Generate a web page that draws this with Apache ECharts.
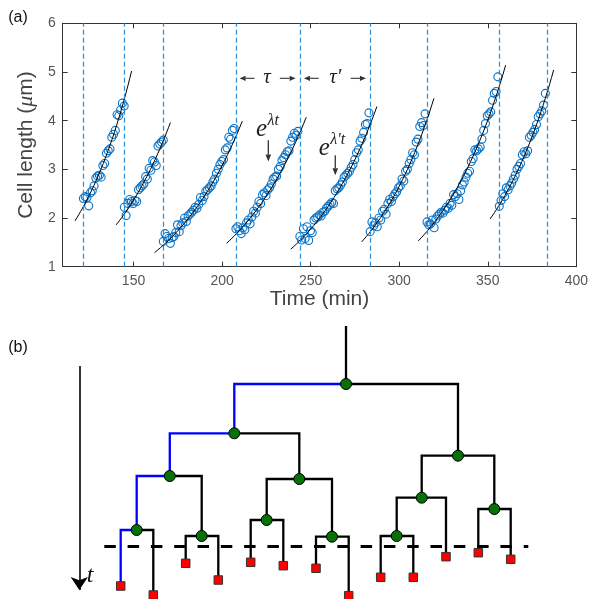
<!DOCTYPE html>
<html><head><meta charset="utf-8">
<script src="https://cdn.jsdelivr.net/npm/echarts@6/dist/echarts.min.js"></script>
<style>html,body{margin:0;padding:0;background:#fff}#c{width:591px;height:599px}</style>
</head><body><div id="c"></div>
<script>
// ---------- Panel (a) data ----------
const xTicks = [150, 200, 250, 300, 350, 400];
const yTicks = [1, 2, 3, 4, 5, 6];
const divisionTimes = [121.7, 144.8, 166.8, 207.8, 243.9, 283.6, 315.7, 356.5, 383.7];
const cycleStart = [121.7, 144.8, 166.8, 207.8, 243.9, 283.6, 315.7, 356.5]; // 1-min sampling
const cycle1 = [2.40,2.44,2.42,2.25,2.52,2.56,2.66,2.82,2.86,2.88,2.84,3.08,3.12,3.33,3.38,3.42,3.66,3.72,3.80,4.12,4.10,4.22,4.36,4.30];
const cycle2 = [2.22,2.05,2.30,2.38,2.34,2.30,2.36,2.34,2.58,2.62,2.66,2.70,2.85,2.80,3.02,2.98,3.18,3.15,3.08,3.48,3.52,3.56,3.60];
const cycle3 = [1.52,1.68,1.62,1.58,1.48,1.60,1.62,1.70,1.86,1.72,1.84,1.90,2.00,1.93,2.04,2.08,2.12,2.16,2.22,2.20,2.28,2.42,2.36,2.44,2.55,2.58,2.62,2.66,2.74,2.80,2.92,3.00,3.10,3.16,3.20,3.40,3.44,3.66,3.62,3.80,3.84];
const cycle4 = [1.78,1.82,1.74,1.68,1.80,1.76,1.90,1.96,1.88,2.02,2.14,2.10,2.22,2.34,2.30,2.48,2.52,2.46,2.58,2.62,2.70,2.80,2.84,2.86,3.00,3.06,3.18,3.24,3.30,3.36,3.38,3.58,3.66,3.74,3.70,3.78];
const cycle5 = [1.62,1.55,1.78,1.58,1.82,1.54,1.74,1.70,1.96,2.00,2.02,2.06,2.04,2.12,2.14,2.20,2.24,2.28,2.32,2.30,2.56,2.60,2.62,2.68,2.74,2.84,2.88,2.92,2.96,3.04,3.10,3.20,3.34,3.40,3.58,3.64,3.76,3.92,3.94,4.16];
const cycle6 = [1.72,1.92,1.84,1.90,1.82,2.00,1.96,2.14,2.18,2.08,2.30,2.38,2.34,2.44,2.50,2.54,2.62,2.66,2.80,2.76,2.96,3.00,3.12,3.20,3.34,3.30,3.56,3.62,3.88,3.96,3.90,4.14];
const cycle7 = [1.92,1.86,1.88,1.96,1.80,1.98,2.04,2.08,2.12,2.10,2.16,2.22,2.20,2.30,2.26,2.48,2.44,2.50,2.38,2.56,2.68,2.74,2.84,2.92,2.96,3.16,3.22,3.40,3.38,3.42,3.46,3.62,3.80,3.94,4.10,4.14,4.18,4.42,4.56,4.60,4.90];
const cycle8 = [2.24,2.36,2.50,2.44,2.62,2.58,2.66,2.72,2.80,2.88,3.00,3.06,3.12,3.30,3.36,3.32,3.38,3.66,3.70,3.76,3.82,3.92,4.08,4.14,4.20,4.32,4.56];
// exponential fits (start/end)
const fitT0 = [116.9, 140.2, 161.9, 202.5, 238.8, 278.8, 310.8, 351.3];
const fitT1 = [148.9, 170.8, 211.4, 247.5, 287.4, 319.6, 360.1, 387.2];
const fitY0 = [1.94, 1.86, 1.29, 1.48, 1.36, 1.51, 1.53, 1.98];
const fitY1 = [5.02, 3.96, 3.99, 4.07, 4.29, 4.46, 5.14, 5.04];

// ---------- Panel (b) data (lineage tree) ----------
const nodeNames  = ['R','A','B','C','D','E','F','G','H','I','J','K'];
const nodeX      = [346, 234.3, 169.8, 136.7, 201.7, 299.3, 266.7, 332, 458, 421.7, 396.7, 494.3];
const nodeT      = [384, 433.3, 476, 530, 536, 479, 520, 536.7, 455.7, 497.7, 536, 509];
const nodeParent = [null,'R','A','B','B','A','E','E','R','H','I','H'];
const leafNames  = ['L0','L1','L2','L3','L4','L5','L6','L7','L8','L9','L10','L11','L12'];
const leafX      = [120.7, 153.3, 185.7, 218.3, 250.7, 283.3, 316, 348.7, 380.7, 413.3, 446, 478.3, 510.7];
const leafT      = [586, 595, 563.3, 580, 562.3, 565.7, 568.3, 595.7, 577.3, 577.3, 556.7, 552.7, 559.3];
const leafParent = ['C','C','D','D','F','F','G','G','J','J','I','K','K'];
const lineage    = ['R','A','B','C','L0'];
const rootStemTop = 326;
const cutoffT = 546;
const cutoffRange = [104.3, 528.3];

const FONT = 'Liberation Sans, Helvetica, Arial, sans-serif';
const SERIF = 'Liberation Serif, DejaVu Serif, serif';
const chart = echarts.init(document.getElementById('c'));

const cycles = [cycle1, cycle2, cycle3, cycle4, cycle5, cycle6, cycle7, cycle8];
const scatterData = [];
cycles.forEach((c, k) => c.forEach((v, i) => scatterData.push([cycleStart[k] + i, v])));

const fitSeries = fitT0.map((t0, k) => {
  const pts = [];
  const n = 30;
  for (let i = 0; i <= n; i++) {
    const f = i / n;
    pts.push([t0 + (fitT1[k] - t0) * f, fitY0[k] * Math.pow(fitY1[k] / fitY0[k], f)]);
  }
  return {type: 'line', xAxisIndex: 0, yAxisIndex: 0, data: pts, showSymbol: false, symbol: 'none',
    lineStyle: {color: '#000', width: 1, opacity: 1}, z: 4, silent: true, animation: false};
});

// tree edges
const pos = {};
nodeNames.forEach((n, i) => pos[n] = [nodeX[i], nodeT[i]]);
leafNames.forEach((n, i) => pos[n] = [leafX[i], leafT[i]]);
const edgeData = [];
function addEdge(child, parent) {
  const p = pos[parent], c = pos[child];
  const blue = lineage.includes(child) && lineage.includes(parent);
  edgeData.push({coords: [[p[0], p[1]], [c[0], p[1]], [c[0], c[1]]],
    lineStyle: {color: blue ? '#0000ff' : '#000', width: 2.3, opacity: 1}});
}
nodeNames.forEach((n, i) => { if (nodeParent[i]) addEdge(n, nodeParent[i]); });
leafNames.forEach((n, i) => addEdge(n, leafParent[i]));
edgeData.push({coords: [[nodeX[0], rootStemTop], [nodeX[0], nodeT[0]]], lineStyle: {color: '#000', width: 2.3, opacity: 1}});

const axisCommon = {
  axisLine: {show: true, onZero: false, lineStyle: {color: '#333', width: 1}},
  splitLine: {show: false}
};

chart.setOption({
  animation: false,
  backgroundColor: '#fff',
  grid: [
    {left: 62.7, right: 9.5, top: 23.3, height: 243.4},
    {left: 0, right: 0, top: 0, bottom: 0}
  ],
  xAxis: [
    Object.assign({gridIndex: 0, type: 'value', min: 110, max: 400, position: 'bottom',
      axisTick: {inside: true, length: 5, customValues: xTicks, lineStyle: {color: '#333'}},
      axisLabel: {customValues: xTicks, color: '#555', fontSize: 14, margin: 7, fontFamily: FONT},
      name: 'Time (min)', nameLocation: 'middle', nameGap: 21,
      nameTextStyle: {fontSize: 21, color: '#444', fontFamily: FONT}}, axisCommon),
    Object.assign({gridIndex: 0, type: 'value', min: 110, max: 400, position: 'top',
      axisTick: {inside: true, length: 5, customValues: xTicks, lineStyle: {color: '#333'}},
      axisLabel: {show: false}}, axisCommon),
    {gridIndex: 1, type: 'value', min: 0, max: 591, show: false}
  ],
  yAxis: [
    Object.assign({gridIndex: 0, type: 'value', min: 1, max: 6, interval: 1, position: 'left',
      axisTick: {inside: true, length: 5, lineStyle: {color: '#333'}},
      axisLabel: {color: '#555', fontSize: 14, margin: 7, fontFamily: FONT},
      name: 'Cell length ({i|μ}m)', nameLocation: 'middle', nameGap: 16,
      nameTextStyle: {fontSize: 21, color: '#444', fontFamily: FONT,
        rich: {i: {fontSize: 22, fontStyle: 'italic', fontFamily: SERIF, color: '#444'}}}}, axisCommon),
    Object.assign({gridIndex: 0, type: 'value', min: 1, max: 6, interval: 1, position: 'right',
      axisTick: {inside: true, length: 5, lineStyle: {color: '#333'}},
      axisLabel: {show: false}}, axisCommon),
    {gridIndex: 1, type: 'value', min: 0, max: 599, inverse: true, show: false}
  ],
  series: [
    {type: 'scatter', xAxisIndex: 0, yAxisIndex: 0, data: scatterData, symbol: 'circle', symbolSize: 8,
      itemStyle: {color: 'rgba(0,0,0,0)', borderColor: '#0a72c4', borderWidth: 1.1, opacity: 1}, z: 3, silent: true,
      markLine: {symbol: ['none', 'none'], silent: true, label: {show: false},
        lineStyle: {color: '#2a8dd8', type: [5, 3], width: 1.2, opacity: 1},
        data: divisionTimes.map(t => ({xAxis: t}))}},
    ...fitSeries,
    {type: 'lines', coordinateSystem: 'cartesian2d', xAxisIndex: 2, yAxisIndex: 2, polyline: true,
      data: edgeData, lineStyle: {opacity: 1}, z: 2, silent: true},
    {type: 'lines', coordinateSystem: 'cartesian2d', xAxisIndex: 2, yAxisIndex: 2,
      data: [{coords: [[cutoffRange[0], cutoffT], [cutoffRange[1], cutoffT]]}],
      lineStyle: {color: '#000', width: 2.8, type: [11.5, 11.8], opacity: 1}, z: 3, silent: true},
    {type: 'lines', coordinateSystem: 'cartesian2d', xAxisIndex: 2, yAxisIndex: 2,
      data: [{coords: [[79.3, 366], [79.3, 590]]}], symbol: ['none', 'arrow'], symbolSize: [9, 13],
      lineStyle: {color: '#000', width: 1.6, opacity: 1}, z: 3, silent: true},
    {type: 'scatter', xAxisIndex: 2, yAxisIndex: 2, data: nodeNames.map((n, i) => [nodeX[i], nodeT[i]]),
      symbol: 'circle', symbolSize: 11, itemStyle: {color: '#067206', borderColor: '#000', borderWidth: 1, opacity: 1}, z: 5, silent: true},
    {type: 'scatter', xAxisIndex: 2, yAxisIndex: 2, data: leafNames.map((n, i) => [leafX[i], leafT[i]]),
      symbol: 'rect', symbolSize: 8.5, itemStyle: {color: '#ff0000', borderColor: '#333', borderWidth: 1, opacity: 1}, z: 5, silent: true}
  ]
});

// ---------- annotations ----------
const P = (t, y) => chart.convertToPixel({xAxisIndex: 0, yAxisIndex: 0}, [t, y]);
const ACOL = '#333';
function hArrow(x0, x1, y) { // from x0 to x1 with head at x1
  const dir = Math.sign(x1 - x0), hl = 6, hw = 2.6;
  return [
    {type: 'line', shape: {x1: x0, y1: y, x2: x1 - dir * hl, y2: y}, style: {stroke: ACOL, lineWidth: 1.1}},
    {type: 'polygon', shape: {points: [[x1, y], [x1 - dir * hl, y - hw], [x1 - dir * hl, y + hw]]}, style: {fill: ACOL}}
  ];
}
function vArrow(x, y0, y1) {
  const hl = 7, hw = 2.8;
  return [
    {type: 'line', shape: {x1: x, y1: y0, x2: x, y2: y1 - hl}, style: {stroke: ACOL, lineWidth: 1.3}},
    {type: 'polygon', shape: {points: [[x, y1], [x - hw, y1 - hl], [x + hw, y1 - hl]]}, style: {fill: ACOL}}
  ];
}
const g = [];
const yT = P(225, 4.87)[1];
g.push(...hArrow(P(218.3, 0)[0], P(209.9, 0)[0], yT));
g.push(...hArrow(P(232.6, 0)[0], P(241.5, 0)[0], yT));
g.push(...hArrow(P(254.6, 0)[0], P(246.2, 0)[0], yT));
g.push(...hArrow(P(272.6, 0)[0], P(281.2, 0)[0], yT));
g.push({type: 'text', x: P(225.4, 0)[0], y: yT - 1, style: {text: 'τ', font: 'italic 21px ' + SERIF, fill: '#222', align: 'center', verticalAlign: 'middle'}});
g.push({type: 'text', x: P(263.9, 0)[0], y: yT - 1, style: {text: 'τ′', font: 'italic 21px ' + SERIF, fill: '#222', align: 'center', verticalAlign: 'middle'}});
// e^{λt}
const e1 = P(219.2, 3.81);
g.push({type: 'text', x: e1[0], y: e1[1], style: {text: 'e', font: 'italic 25px ' + SERIF, fill: '#222', align: 'left', verticalAlign: 'middle'}});
g.push({type: 'text', x: e1[0] + 11.5, y: e1[1] - 9, style: {text: 'λt', font: 'italic 16px ' + SERIF, fill: '#222', align: 'left', verticalAlign: 'middle'}});
const a1 = P(226.1, 3.60), a1b = P(226.1, 3.16);
g.push(...vArrow(a1[0], a1[1], a1b[1]));
const e2 = P(254.6, 3.43);
g.push({type: 'text', x: e2[0], y: e2[1], style: {text: 'e', font: 'italic 25px ' + SERIF, fill: '#222', align: 'left', verticalAlign: 'middle'}});
g.push({type: 'text', x: e2[0] + 11.5, y: e2[1] - 9, style: {text: 'λ′t', font: 'italic 16px ' + SERIF, fill: '#222', align: 'left', verticalAlign: 'middle'}});
const a2 = P(263.9, 3.29), a2b = P(263.9, 2.88);
g.push(...vArrow(a2[0], a2[1], a2b[1]));
// panel labels and t
g.push({type: 'text', x: 18, y: 18, style: {text: '(a)', font: '16px ' + FONT, fill: '#111', align: 'center', verticalAlign: 'middle'}});
g.push({type: 'text', x: 18, y: 348, style: {text: '(b)', font: '16px ' + FONT, fill: '#111', align: 'center', verticalAlign: 'middle'}});
g.push({type: 'text', x: 90, y: 576, style: {text: 't', font: 'italic 24px ' + SERIF, fill: '#111', align: 'center', verticalAlign: 'middle'}});
chart.setOption({graphic: g.map(e => Object.assign({silent: true, z: 10}, e))});
</script></body></html>
